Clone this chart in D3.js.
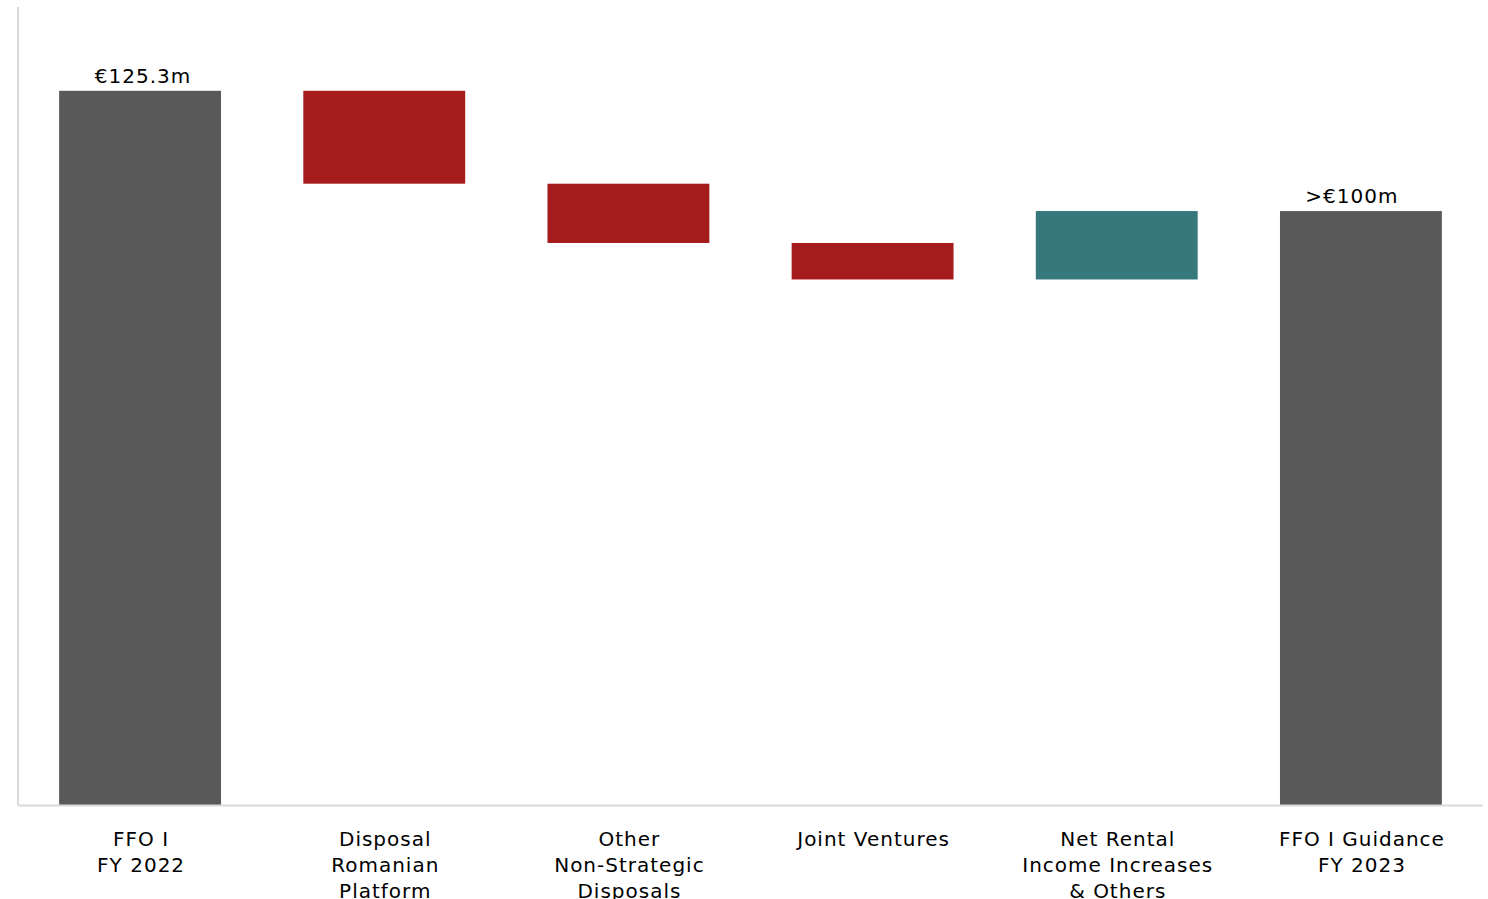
<!DOCTYPE html>
<html>
<head>
<meta charset="utf-8">
<script src="https://cdn.jsdelivr.net/npm/d3@7/dist/d3.min.js"></script>
<style>
  html, body { margin: 0; padding: 0; background: #fff; }
  svg text { font-family: "DejaVu Sans", Verdana, sans-serif; fill: #000; letter-spacing: 1px; }
</style>
</head>
<body>
<svg id="chart" width="1488" height="899"></svg>
<script>
const categories = [
  ["FFO I", "FY 2022"],
  ["Disposal", "Romanian", "Platform"],
  ["Other", "Non-Strategic", "Disposals"],
  ["Joint Ventures"],
  ["Net Rental", "Income Increases", "& Others"],
  ["FFO I Guidance", "FY 2023"]
];
const kinds = ["total", "delta", "delta", "delta", "delta", "total"];
const values = [125.3, -16.3, -10.4, -6.4, 12.0, 104.2];
const valueLabels = ["€125.3m", "", "", "", "", ">€100m"];
const colors = { total: "#595959", neg: "#a61c1c", pos: "#37787d" };

(function () {
const svg = d3.select("#chart");
const mLeft = 18, mRight = 1483, mBottom = 805, mTop = 7;

const x = d3.scaleBand().domain(d3.range(categories.length))
  .range([mLeft, mRight]).paddingInner(0.337).paddingOuter(0.1685);
const y = d3.scaleLinear().domain([0, 140]).range([mBottom, mTop]);

let running = 0;
const segs = values.map((v, i) => {
  let y0, y1, color;
  if (kinds[i] === "total") {
    y0 = 0; y1 = v; running = v; color = colors.total;
  } else {
    y0 = running; y1 = running + v; running = y1;
    color = v < 0 ? colors.neg : colors.pos;
  }
  return { i, lo: Math.min(y0, y1), hi: Math.max(y0, y1), color, label: valueLabels[i] };
});

svg.selectAll("rect.bar").data(segs).enter().append("rect")
  .attr("class", "bar")
  .attr("x", d => x(d.i))
  .attr("width", x.bandwidth())
  .attr("y", d => y(d.hi))
  .attr("height", d => y(d.lo) - y(d.hi))
  .attr("fill", d => d.color);

svg.append("line").attr("x1", mLeft).attr("x2", mLeft).attr("y1", y(140)).attr("y2", mBottom)
  .attr("stroke", "#d9d9d9").attr("stroke-width", 2);
svg.append("line").attr("x1", mLeft).attr("x2", mRight).attr("y1", mBottom + 0.5).attr("y2", mBottom + 0.5)
  .attr("stroke", "#d9d9d9").attr("stroke-width", 2);

svg.selectAll("text.val").data(segs.filter(d => d.label)).enter().append("text")
  .attr("class", "val")
  .attr("x", d => x(d.i) + x.bandwidth() / 2 + (d.i === 0 ? 3 : -9))
  .attr("y", d => y(d.hi) - 8)
  .attr("text-anchor", "middle")
  .attr("font-size", 20)
  .text(d => d.label);

const cat = svg.selectAll("text.cat").data(categories).enter().append("text")
  .attr("class", "cat")
  .attr("text-anchor", "middle")
  .attr("font-size", 20)
  .attr("transform", (d, i) => `translate(${x(i) + x.bandwidth() / 2 + 1},846)`);
cat.selectAll("tspan").data(d => d).enter().append("tspan")
  .attr("x", 0).attr("y", (d, j) => j * 26).text(d => d);
})();
</script>
</body>
</html>
